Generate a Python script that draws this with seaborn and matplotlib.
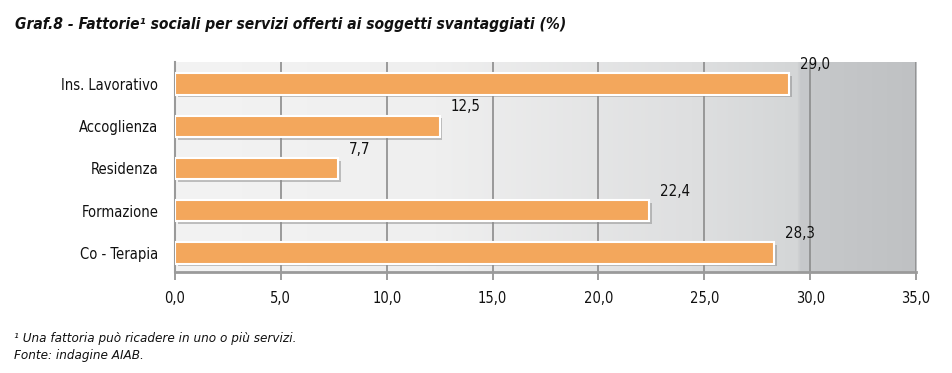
import numpy as np
import pandas as pd
import matplotlib
matplotlib.use("Agg")
import matplotlib.pyplot as plt
import matplotlib.patheffects as pe
from matplotlib.colors import LinearSegmentedColormap
import seaborn as sns

categories = ["Ins. Lavorativo", "Accoglienza", "Residenza", "Formazione", "Co - Terapia"]
values = [29.0, 12.5, 7.7, 22.4, 28.3]
xticks = [0, 5, 10, 15, 20, 25, 30, 35]
title = "Graf.8 - Fattorie\u00b9 sociali per servizi offerti ai soggetti svantaggiati (%)"
footnote1 = "\u00b9 Una fattoria può ricadere in uno o più servizi."
footnote2 = "Fonte: indagine AIAB."

sns.set_theme(style="white")
plt.rcParams['font.family'] = ['DejaVu Sans']

df = pd.DataFrame({"cat": categories, "val": values})

fig = plt.figure(figsize=(9.53, 3.73), dpi=100)
ax = fig.add_axes([0.1836, 0.2708, 0.9612 - 0.1836, 0.8338 - 0.2708])

# background gradient
cmap = LinearSegmentedColormap.from_list("bg", [(0.0, "#f3f3f3"), (0.35, "#efefef"), (0.7, "#dedfe0"),
                                                (0.84, "#d4d6d7"), (0.845, "#c7c9cb"), (1.0, "#bfc1c3")])
grad = np.linspace(0, 1, 400).reshape(1, -1)
ax.imshow(grad, extent=[0, 35, 4.45, -0.52], aspect="auto", cmap=cmap, zorder=0)

sns.barplot(data=df, x="val", y="cat", ax=ax, color="#F3A75C", saturation=1, width=0.5,
            edgecolor="white", linewidth=1.5, zorder=3)
for p in ax.patches:
    p.set_path_effects([pe.SimplePatchShadow(offset=(2, -2), shadow_rgbFace="#8a8a8a", alpha=0.5), pe.Normal()])

for i, v in enumerate(values):
    ax.text(v + 0.5, i - 0.28, f"{v:.1f}".replace(".", ","), ha="left", va="bottom",
            fontsize=10.8, fontstretch="condensed", color="#111111", zorder=5)

ax.set_xlim(0, 35)
ax.set_ylim(4.45, -0.52)
ax.set_xticks(xticks)
ax.set_xticklabels([f"{t:.1f}".replace(".", ",") for t in xticks], fontsize=10.5, color="#111111")
ax.set_xlabel("")
ax.set_ylabel("")
ax.tick_params(axis="y", labelsize=10.5, length=0, pad=12, labelcolor="#111111")
ax.tick_params(axis="x", length=6, width=1.2, color="#8c8c8c", pad=8, bottom=True, direction="out")
for t in ax.get_yticklabels() + ax.get_xticklabels():
    t.set_fontstretch("condensed")

for xv in xticks[1:]:
    ax.axvline(xv, color="#8c8c8c", lw=1.2, zorder=1)

for s in ["top", "right"]:
    ax.spines[s].set_visible(False)
ax.spines["left"].set_color("#9a9a9a")
ax.spines["left"].set_linewidth(1.5)
ax.spines["bottom"].set_color("#9a9a9a")
ax.spines["bottom"].set_linewidth(2)

fig.text(0.016, 0.935, title, fontsize=11.2, fontweight="bold", fontstyle="italic",
         fontstretch="condensed", color="#111111", va="center")
fig.text(0.015, 0.093, footnote1, fontsize=9.6, fontstyle="italic", fontstretch="condensed",
         color="#111111", va="center")
fig.text(0.015, 0.048, footnote2, fontsize=9.6, fontstyle="italic", fontstretch="condensed",
         color="#111111", va="center")

fig.savefig("out.png", dpi=100)
